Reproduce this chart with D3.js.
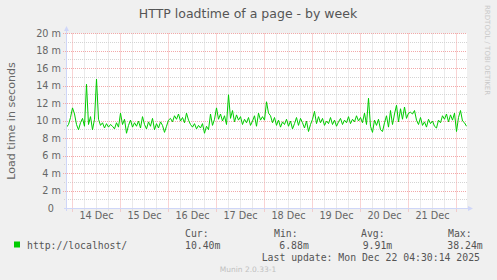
<!DOCTYPE html>
<html>
<head>
<meta charset="utf-8">
<script src="https://cdn.jsdelivr.net/npm/d3@7"></script>
<style>
  body { margin: 0; background: #f0f0f0; }
  svg { display: block; }
  .sans { font-family: "DejaVu Sans", sans-serif; }
  .mono { font-family: "DejaVu Sans Mono", monospace; }
</style>
</head>
<body>
<svg id="chart" width="497" height="280"></svg>
<script>
var title = "HTTP loadtime of a page - by week";
var yLabel = "Load time in seconds";
var seriesName = "http://localhost/";
var sampleStart = new Date(2025, 11, 13, 21, 0);   // hourly samples from here
var viewStart = new Date(2025, 11, 13, 21, 15);
var viewEnd = new Date(2025, 11, 22, 5, 15);

// load time in milliseconds, one per hour
var values = [
  9.3, 9.6, 10.4,
  // 14 Dec
  11.5, 10.8, 9.6, 9.0, 9.8, 10.3, 9.4, 14.2, 9.6, 10.5, 9.0, 10.2,
  14.8, 10.2, 9.5, 9.8, 9.2, 9.7, 9.3, 9.6, 9.4, 9.1, 9.8, 9.3,
  // 15 Dec
  10.9, 9.6, 10.2, 8.6, 9.5, 10.1, 9.3, 9.8, 9.4, 10.0, 9.2, 10.5,
  9.6, 9.1, 9.9, 9.4, 10.3, 9.0, 9.7, 9.2, 9.9, 9.5, 8.7, 9.4,
  // 16 Dec
  10.1, 10.3, 9.9, 10.6, 10.2, 10.8, 10.0, 10.4, 9.8, 10.9, 10.1, 9.6,
  9.3, 9.7, 9.1, 9.5, 9.2, 9.7, 8.6, 9.4, 9.0, 10.8, 9.5, 10.2,
  // 17 Dec
  11.5, 10.2, 10.8, 10.0, 10.6, 9.6, 13.0, 10.3, 11.2, 9.9, 10.7, 10.1,
  10.5, 9.6, 10.2, 9.8, 10.4, 9.5, 10.0, 10.6, 9.4, 10.9, 10.1, 10.5,
  // 18 Dec
  10.1, 12.2, 10.9, 10.6, 9.8, 10.4, 9.5, 10.1, 9.3, 9.9, 9.6, 10.2,
  9.4, 10.0, 9.1, 9.7, 10.4, 9.5, 10.3, 9.8, 9.2, 10.0, 8.8, 9.6,
  // 19 Dec
  10.2, 11.1, 9.7, 10.5, 9.8, 10.3, 9.5, 10.0, 9.7, 10.4, 9.6, 10.1,
  9.4, 9.9, 10.3, 9.6, 10.1, 9.8, 10.5, 9.7, 10.2, 9.9, 10.6, 10.0,
  // 20 Dec
  10.4, 9.8, 10.9, 9.6, 12.6, 9.4, 8.7, 10.1, 9.5, 10.2, 9.0, 8.8,
  9.8, 10.6, 9.3, 11.2, 9.6, 10.8, 11.8, 9.9, 11.4, 10.2, 11.6, 10.3,
  // 21 Dec
  10.9, 11.0, 10.8, 11.2, 10.1, 9.6, 10.4, 9.5, 9.9, 9.3, 10.2, 9.7,
  10.0, 9.4, 9.2, 10.1, 9.8, 10.6, 10.2, 10.8, 9.9, 10.7, 10.1, 10.9,
  // 22 Dec
  8.8, 10.4, 11.2, 10.0, 9.8, 9.4
];

var yTicks = [0, 2, 4, 6, 8, 10, 12, 14, 16, 18, 20];
var yTickLabels = ["0", "2 m", "4 m", "6 m", "8 m", "10 m", "12 m", "14 m", "16 m", "18 m", "20 m"];
var dayLabels = ["14 Dec", "15 Dec", "16 Dec", "17 Dec", "18 Dec", "19 Dec", "20 Dec", "21 Dec"];
var legendHeads = ["Cur:", "Min:", "Avg:", "Max:"];
var legendValues = ["10.40m", "6.88m", "9.91m", "38.24m"];
var lastUpdate = "Last update: Mon Dec 22 04:30:14 2025";
var footer = "Munin 2.0.33-1";
var watermark = "RRDTOOL / TOBI OETIKER";

var svg = d3.select("#chart");
var plotLeft = 67, plotRight = 467, plotTop = 33.5, plotBottom = 208.5;

svg.append("rect").attr("width", 497).attr("height", 280).attr("fill", "#f0f0f0");
svg.append("rect").attr("x", plotLeft).attr("y", plotTop)
  .attr("width", plotRight - plotLeft).attr("height", plotBottom - plotTop)
  .attr("fill", "#ffffff");

var x = d3.scaleTime().domain([viewStart, viewEnd]).range([plotLeft, plotRight]);
var y = d3.scaleLinear().domain([0, 20]).range([plotBottom, plotTop]);

function px(v) { return Math.floor(v) + 0.5; }

// minor grid
var grid = svg.append("g");
d3.range(1, 20, 2).forEach(function(v) {
  grid.append("line").attr("x1", 64).attr("x2", plotRight).attr("y1", px(y(v))).attr("y2", px(y(v)))
    .attr("stroke", "#d4d4d4").attr("stroke-dasharray", "1,1");
});
d3.timeHour.every(6).range(viewStart, viewEnd).forEach(function(t) {
  if (t.getHours() === 0) return;
  grid.append("line").attr("y1", plotTop).attr("y2", 211).attr("x1", px(x(t))).attr("x2", px(x(t)))
    .attr("stroke", "#d4d4d4").attr("stroke-dasharray", "1,1");
});
// major grid
yTicks.forEach(function(v) {
  if (v === 0) return;
  grid.append("line").attr("x1", 63).attr("x2", plotRight).attr("y1", px(y(v))).attr("y2", px(y(v)))
    .attr("stroke", "#f2a8a8").attr("stroke-dasharray", "1,1");
});
d3.timeDay.range(viewStart, viewEnd).forEach(function(t) {
  grid.append("line").attr("y1", plotTop).attr("y2", 212).attr("x1", px(x(t))).attr("x2", px(x(t)))
    .attr("stroke", "#f2a8a8").attr("stroke-dasharray", "1,1");
});

// data line
svg.append("clipPath").attr("id", "plot").append("rect")
  .attr("x", plotLeft).attr("y", plotTop)
  .attr("width", plotRight - plotLeft).attr("height", plotBottom - plotTop);
var line = d3.line()
  .x(function(d, i) { return x(d3.timeHour.offset(sampleStart, i)); })
  .y(function(d) { return y(d); });
svg.append("path").datum(values).attr("d", line).attr("clip-path", "url(#plot)")
  .attr("fill", "none").attr("stroke", "#00cc00").attr("stroke-width", 1);

// axes
svg.append("line").attr("x1", 64).attr("x2", 470).attr("y1", plotBottom).attr("y2", plotBottom)
  .attr("stroke", "#cfd6f8");
svg.append("line").attr("x1", 66.5).attr("x2", 66.5).attr("y1", 211).attr("y2", 29)
  .attr("stroke", "#cfd6f8");
svg.append("path").attr("d", "M64,31 L66.5,26 L69,31 Z").attr("fill", "#cfd6f8");
svg.append("path").attr("d", "M468,206 L473,208.5 L468,211 Z").attr("fill", "#cfd6f8");

// tick labels
svg.append("g").selectAll("text").data(yTicks).enter().append("text")
  .attr("class", "sans").attr("font-size", "9.7px").attr("fill", "#666")
  .attr("text-anchor", "end")
  .attr("x", function(d) { return d === 0 ? 54 : 61; })
  .attr("y", function(d) { return y(d) + 3.4; })
  .text(function(d, i) { return yTickLabels[i]; });

svg.append("g").selectAll("text").data(dayLabels).enter().append("text")
  .attr("class", "sans").attr("font-size", "9.7px").attr("fill", "#666")
  .attr("text-anchor", "middle")
  .attr("x", function(d, i) { return x(new Date(2025, 11, 14 + i, 12)); })
  .attr("y", 219.3)
  .text(function(d) { return d; });

// titles
svg.append("text").attr("class", "sans").attr("font-size", "12.5px").attr("fill", "#555")
  .attr("text-anchor", "middle").attr("x", 248).attr("y", 17.5).text(title);
svg.append("text").attr("class", "sans").attr("font-size", "11.1px").attr("fill", "#666")
  .attr("text-anchor", "middle").attr("transform", "translate(15,121) rotate(-90)").text(yLabel);
svg.append("text").attr("class", "sans").attr("font-size", "7px").attr("fill", "#c8c8c8")
  .attr("transform", "translate(485,5) rotate(90)").text(watermark);

// legend
svg.append("rect").attr("x", 14).attr("y", 241.5).attr("width", 6).attr("height", 6).attr("fill", "#00cc00");
svg.append("text").attr("class", "mono").attr("font-size", "9.8px").attr("fill", "#555")
  .attr("x", 27).attr("y", 248.7).text(seriesName);
var headX = [185, 274, 361, 448];
var valX = [185, 279.3, 362.7, 447.3];
legendHeads.forEach(function(h, i) {
  svg.append("text").attr("class", "mono").attr("font-size", "9.8px").attr("fill", "#555")
    .attr("x", headX[i]).attr("y", 236.7).text(h);
  svg.append("text").attr("class", "mono").attr("font-size", "9.8px").attr("fill", "#555")
    .attr("x", valX[i]).attr("y", 248.7).text(legendValues[i]);
});
svg.append("text").attr("class", "mono").attr("font-size", "9.8px").attr("fill", "#555")
  .attr("x", 261.7).attr("y", 261).text(lastUpdate);
svg.append("text").attr("class", "sans").attr("font-size", "7.5px").attr("fill", "#c0c0c0")
  .attr("text-anchor", "middle").attr("x", 248).attr("y", 272).text(footer);
</script>
</body>
</html>
